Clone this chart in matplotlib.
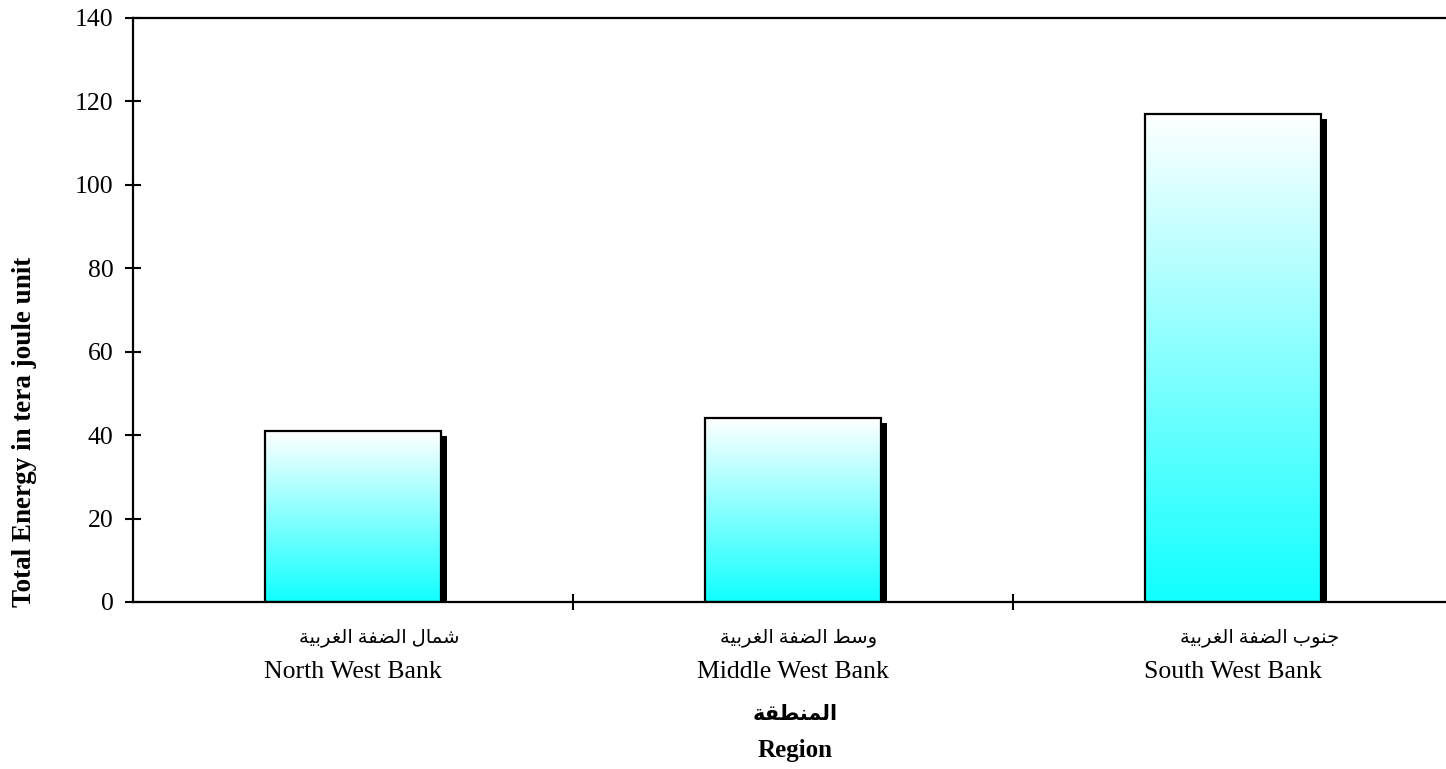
import numpy as np
import matplotlib
matplotlib.use('Agg')
import matplotlib.pyplot as plt
import matplotlib.transforms as mtransforms

regions_en = ['North West Bank', 'Middle West Bank', 'South West Bank']
regions_ar = ['شمال الضفة الغربية', 'وسط الضفة الغربية', 'جنوب الضفة الغربية']
energy = [41, 44, 117]
yticks = [0, 20, 40, 60, 80, 100, 120, 140]

# minimal arabic shaping (presentation forms + right-to-left order)
FORMS = {
    'ا': (0xFE8D, False), 'ب': (0xFE8F, True), 'ة': (0xFE93, False), 'ت': (0xFE95, True),
    'ج': (0xFE9D, True), 'ر': (0xFEAD, False), 'س': (0xFEB1, True), 'ش': (0xFEB5, True),
    'ض': (0xFEBD, True), 'ط': (0xFEC1, True), 'غ': (0xFECD, True), 'ف': (0xFED1, True),
    'ق': (0xFED5, True), 'ل': (0xFEDD, True), 'م': (0xFEE1, True), 'ن': (0xFEE5, True),
    'و': (0xFEED, False), 'ي': (0xFEF1, True),
}


def shape(s):
    out = []
    for i, ch in enumerate(s):
        if ch not in FORMS:
            out.append(ch)
            continue
        base, dual = FORMS[ch]
        prev = s[i - 1] if i > 0 else ''
        nxt = s[i + 1] if i + 1 < len(s) else ''
        jp = prev in FORMS and FORMS[prev][1]
        jn = dual and nxt in FORMS
        form = 3 if (jp and jn) else 1 if jp else 2 if jn else 0
        out.append(chr(base + form))
    return ''.join(reversed(out))


plt.rcParams['font.family'] = ['Liberation Serif', 'DejaVu Sans']

fig = plt.figure(figsize=(14.46, 7.69), dpi=100)
ax = fig.add_axes([133 / 1446, 1 - 602 / 769, 1320 / 1446, 584 / 769])

x = np.arange(len(energy))
w = 0.4

# shadows
shadow_tr = ax.transData + mtransforms.ScaledTranslation(6 / 100, -5 / 100, fig.dpi_scale_trans)
ax.bar(x, energy, w, color='black', transform=shadow_tr, zorder=1)

grad = np.linspace(0, 1, 256).reshape(-1, 1)
cmap = matplotlib.colors.LinearSegmentedColormap.from_list('cy', ['#10ffff', '#ffffff'])
bars = ax.bar(x, energy, w, facecolor='none', edgecolor='black', linewidth=1.6, zorder=3)
for b in bars:
    im = ax.imshow(grad, cmap=cmap, origin='lower', aspect='auto', zorder=2,
                   extent=(b.get_x(), b.get_x() + b.get_width(), 0, b.get_height()))
    im.set_clip_path(b)

ax.set_xlim(-0.5, 2.5)
ax.set_ylim(0, 140)
ax.set_yticks(yticks)
ax.tick_params(axis='y', direction='inout', length=12, width=1.5, labelsize=18.5, pad=8)
ax.set_xticks([0.5, 1.5])
ax.set_xticklabels([])
ax.tick_params(axis='x', direction='inout', length=12, width=1.5)
for s in ['left', 'bottom', 'top']:
    ax.spines[s].set_linewidth(1.6)
ax.spines['right'].set_visible(False)

ar_off = [26, 6, 27]
for i in range(len(energy)):
    tr = mtransforms.blended_transform_factory(ax.transData, fig.transFigure)
    ax.text(i, 1 - 638 / 769, shape(regions_ar[i]), transform=tr + mtransforms.ScaledTranslation(ar_off[i] / 100, 0, fig.dpi_scale_trans),
            ha='center', va='center', fontsize=14, clip_on=False)
    ax.text(i, 1 - 672 / 769, regions_en[i], transform=tr, ha='center', va='center', fontsize=18.5, clip_on=False)

fig.text(795 / 1446, 1 - 715 / 769, shape('المنطقة'), ha='center', va='center', fontsize=15, fontweight='bold')
fig.text(795 / 1446, 1 - 750 / 769, 'Region', ha='center', va='center', fontsize=18, fontweight='bold')
fig.text(25 / 1446, 1 - 432 / 769, 'Total Energy in tera joule unit', rotation=90,
         ha='center', va='center', fontsize=19.5, fontweight='bold')

fig.savefig('out.png', dpi=100)
